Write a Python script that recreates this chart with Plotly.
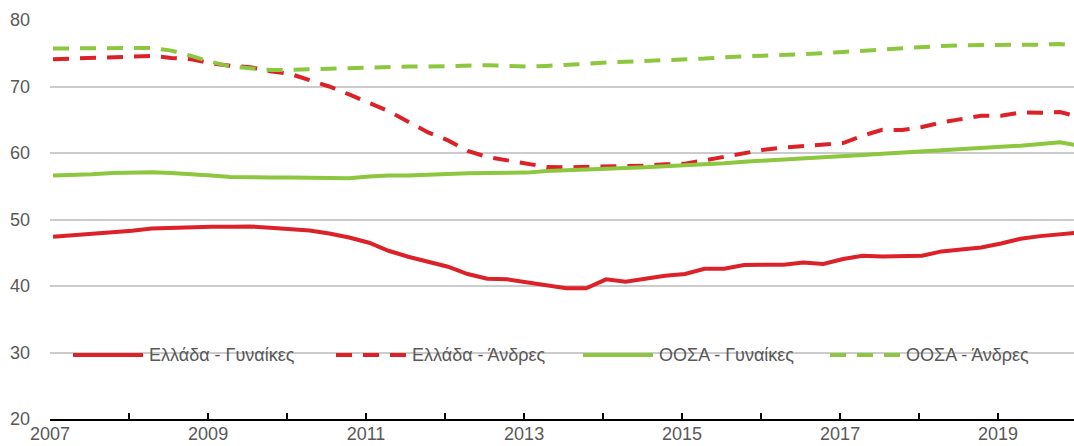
import pandas as pd
import plotly.graph_objects as go

# Quarterly observations, 2007Q1 - 2020Q1
quarters = pd.period_range("2007Q1", "2020Q1", freq="Q")
dates = quarters.start_time + pd.Timedelta(days=14)

greece_women = [
    47.4, 47.6, 47.8, 48.0, 48.3, 48.65, 48.75, 48.9, 48.9, 48.9,
    48.95, 48.75, 48.5, 48.35, 47.9, 47.3, 46.5, 45.3, 44.4, 43.7,
    42.9, 41.8, 41.1, 41.0, 40.5, 40.0, 39.65, 39.65, 41.0, 40.65,
    41.1, 41.55, 41.8, 42.6, 42.6, 43.15, 43.2, 43.2, 43.55, 43.3,
    44.05, 44.55, 44.45, 44.5, 44.55, 45.2, 45.5, 45.8, 46.4, 47.1,
    47.5, 47.85, 48.05,
]
greece_men = [
    74.1, 74.2, 74.4, 74.4, 74.5, 74.6, 74.3, 74.1, 73.5, 73.1,
    72.9, 72.3, 71.9, 70.9, 70.0, 68.8, 67.6, 66.3, 64.7, 63.1,
    61.9, 60.3, 59.4, 58.85, 58.3, 57.9, 57.85, 57.9, 58.0, 58.0,
    58.1, 58.3, 58.4, 58.9, 59.4, 60.0, 60.5, 60.8, 61.0, 61.2,
    61.5, 62.6, 63.5, 63.45, 63.9, 64.6, 65.15, 65.6, 65.6, 66.1,
    66.05, 66.15, 65.4,
]
oecd_women = [
    56.6, 56.65, 56.8, 57.0, 57.1, 57.1, 57.0, 56.85, 56.6, 56.4,
    56.3, 56.3, 56.3, 56.3, 56.35, 56.2, 56.45, 56.6, 56.6, 56.75,
    56.75, 56.95, 57.0, 57.0, 57.05, 57.3, 57.45, 57.55, 57.65, 57.75,
    57.85, 58.0, 58.1, 58.3, 58.45, 58.7, 58.85, 59.0, 59.15, 59.3,
    59.45, 59.7, 59.9, 60.1, 60.3, 60.45, 60.6, 60.8, 60.95, 61.1,
    61.3, 61.6, 61.1,
]
oecd_men = [
    75.7, 75.75, 75.8, 75.8, 75.8, 75.8, 75.4, 74.6, 73.7, 73.0,
    72.7, 72.5, 72.5, 72.6, 72.7, 72.7, 72.9, 73.0, 73.0, 73.0,
    73.1, 73.1, 73.2, 73.1, 73.0, 73.1, 73.2, 73.4, 73.6, 73.7,
    73.9, 74.0, 74.1, 74.2, 74.4, 74.5, 74.6, 74.8, 74.9, 75.0,
    75.2, 75.4, 75.6, 75.7, 76.0, 76.1, 76.2, 76.2, 76.2, 76.2,
    76.3, 76.4, 76.0,
]

series_names = ["Ελλάδα - Γυναίκες", "Ελλάδα - Άνδρες", "ΟΟΣΑ - Γυναίκες", "ΟΟΣΑ - Άνδρες"]
series_values = [greece_women, greece_men, oecd_women, oecd_men]

RED = "#DC2128"
GREEN = "#8DC63F"
DASH = "16px,11px"
styles = [(RED, "solid"), (RED, DASH), (GREEN, "solid"), (GREEN, DASH)]

FONT = "Liberation Sans, Arial, sans-serif"
FONT_SIZE = 18
TEXT = "#595959"

W, H = 1074, 446
ML, MR, MT, MB = 50, 0, 20, 27
PW, PH = W - ML - MR, H - MT - MB

fig = go.Figure()
for name, vals, (color, dash) in zip(series_names, series_values, styles):
    fig.add_trace(go.Scatter(
        x=dates, y=vals, name=name, mode="lines",
        line=dict(color=color, width=4, dash=dash),
        showlegend=False, hoverinfo="skip",
    ))

# Hand-placed legend row (pixel positions converted to paper units)
def px_x(p):
    return (p - ML) / PW

def px_y(p):
    return (H - MB - p) / PH

legend_line_x = [73, 336, 583, 830]
legend_len = 70
legend_y = 355
for name, (color, dash), x0 in zip(series_names, styles, legend_line_x):
    fig.add_shape(
        type="line", xref="paper", yref="paper",
        x0=px_x(x0), x1=px_x(x0 + legend_len), y0=px_y(legend_y), y1=px_y(legend_y),
        line=dict(color=color, width=4, dash=dash),
    )
    fig.add_annotation(
        xref="paper", yref="paper", x=px_x(x0 + legend_len + 4), y=px_y(legend_y),
        xanchor="left", yanchor="middle", showarrow=False, text=name,
        font=dict(family=FONT, size=FONT_SIZE, color=TEXT),
    )

x_start = pd.Timestamp("2007-01-01")
x_end = x_start + pd.Timedelta(days=12.962 * 365.25)

fig.update_layout(
    width=W, height=H,
    margin=dict(l=ML, r=MR, t=MT, b=MB, pad=0),
    paper_bgcolor="white", plot_bgcolor="white",
    font=dict(family=FONT, size=FONT_SIZE, color=TEXT),
    xaxis=dict(
        type="date", range=[x_start, x_end], automargin=False,
        tick0="2007-01-01", dtick="M24", tickformat="%Y",
        ticks="inside", ticklen=6, tickwidth=2, tickcolor="black",
        showline=True, linecolor="black", linewidth=2,
        showgrid=False, zeroline=False,
        minor=dict(dtick="M12", ticks="inside", ticklen=6, tickwidth=2,
                   tickcolor="black", showgrid=False),
        tickfont=dict(family=FONT, size=FONT_SIZE, color=TEXT),
        ticklabelstandoff=-3,
    ),
    yaxis=dict(
        range=[20, 80], dtick=10, tick0=20, automargin=False,
        showgrid=True, gridcolor="#cccccc", gridwidth=2,
        zeroline=False, showline=False, ticks="",
        tickfont=dict(family=FONT, size=FONT_SIZE, color=TEXT),
        ticklabelstandoff=19,
    ),
)

fig.write_html("out.html")
